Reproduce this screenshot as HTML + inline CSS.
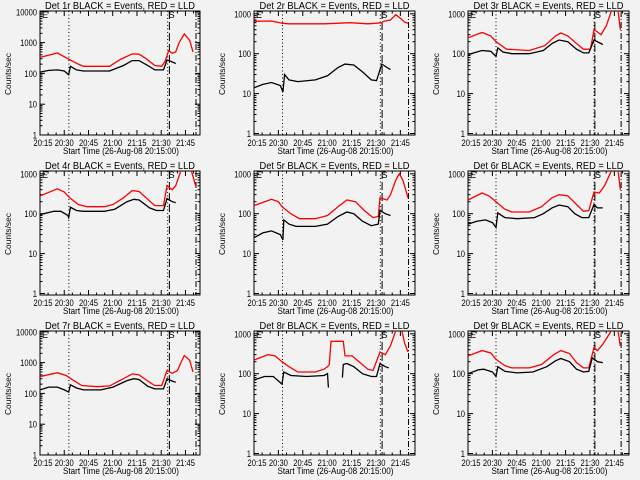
<!DOCTYPE html>
<html><head><meta charset="utf-8"><style>
html,body{margin:0;padding:0;background:#f2f2f2;}
svg{display:block;font-family:"Liberation Sans",sans-serif;}
</style></head><body>
<svg id="chart" width="640" height="480" viewBox="0 0 640 480">
<rect width="640" height="480" fill="#f2f2f2"/>
</svg>
<script>
// Panel order: Det 1r..9r
const detNames = ["1r","2r","3r","4r","5r","6r","7r","8r","9r"];
const yMaxDecade = [4,3,3,3,3,3,4,3,3];
const xTickLabels = ["20:15","20:30","20:45","21:00","21:15","21:30","21:45"];
const xTickMinutes = [0,15,30,45,60,75,90];
// black = Events: [t, counts/sec]; t in plot units (x1.076 = minutes after 20:15); null breaks the line
const black1 = [[0,110],[5,125],[10,130],[14,120],[16.5,90],[17.5,170],[21,130],[25,120],[40,120],[48,180],[53,260],[57,260],[62,180],[66,130],[71,130],[73,270],[75,250],[78,210]];
const red1 = [[0,330],[10,460],[16,300],[22,200],[25,170],[40,170],[46,280],[53,430],[57,420],[61,300],[66,180],[70,170],[72,250],[74,550],[76,450],[78,500],[80,1000],[83,1900],[86,1200],[88,500]];
const black2 = [[0,14],[5,17],[10,19],[15,16],[16.5,11],[17.5,30],[20,22],[25,20],[35,22],[42,28],[48,45],[52,55],[57,52],[62,35],[67,22],[70,21],[73,55],[76,45],[78,40]];
const red2 = [[0,650],[10,660],[16,580],[20,560],[40,560],[55,600],[65,560],[70,580],[73,600],[74,650],[78,700],[81,950],[84,750],[86,620],[88,580]];
const black3 = [[0,95],[8,120],[13,115],[16,85],[17,140],[20,110],[25,100],[35,100],[43,120],[48,180],[52,220],[57,200],[62,130],[66,105],[69,105],[72,220],[77,170]];
const red3 = [[0,250],[8,340],[13,280],[16,200],[22,130],[35,120],[44,160],[50,280],[53,330],[57,280],[62,180],[66,130],[70,130],[72,400],[74,350],[76,300],[79,500],[82,1200],[84,2500],[85,1500],[86,1000],[87,400]];
const black4 = [[0,95],[8,115],[12,115],[16,90],[16.5,80],[17.5,145],[21,120],[25,115],[37,115],[43,130],[50,200],[54,230],[57,220],[63,140],[67,120],[71,120],[73,240],[76,200],[78,190]];
const red4 = [[0,280],[10,420],[14,350],[17,250],[22,170],[27,150],[37,150],[42,170],[48,250],[53,380],[57,360],[62,230],[66,160],[71,160],[73,500],[76,400],[78,500],[81,1200],[84,2500],[87,1200],[89.5,500]];
const black5 = [[0,25],[5,33],[10,37],[15,30],[16.5,22],[17,70],[20,55],[24,48],[35,48],[42,55],[48,85],[53,110],[57,100],[62,65],[67,50],[71,55],[72,120],[75,100],[78,90]];
const red5 = [[0,160],[10,230],[14,200],[16,150],[21,100],[26,75],[35,75],[42,90],[48,150],[53,220],[58,200],[63,120],[68,80],[71,85],[72,250],[76,220],[78,300],[81,700],[83,1000],[85,700],[88,250]];
const black6 = [[0,55],[5,65],[10,70],[14,60],[16,45],[17,105],[21,80],[28,75],[38,80],[43,100],[48,140],[52,165],[57,150],[61,100],[65,80],[69,80],[72,170],[74,140],[77,140]];
const red6 = [[0,220],[8,330],[12,280],[16,200],[21,130],[25,110],[35,110],[42,150],[48,250],[52,300],[57,280],[62,170],[66,115],[69,120],[72,350],[75,330],[78,500],[82,1200],[84,2500],[86,1000],[87,400]];
const black7 = [[0,130],[5,160],[10,160],[14,130],[16.5,110],[17.5,190],[21,150],[25,130],[35,130],[42,160],[50,260],[54,300],[57,280],[62,170],[66,140],[71,140],[73,300],[76,250],[78,230]];
const red7 = [[0,350],[10,470],[15,380],[19,270],[24,180],[33,165],[40,175],[47,280],[53,430],[57,400],[62,250],[66,180],[70,180],[73,550],[76,450],[79,550],[81,1000],[83,1700],[86,1200],[88,500]];
const black8 = [[0,70],[6,85],[11,85],[16,55],[17,110],[21,90],[30,85],[40,90],[42,100],[42.5,45],null,[50.5,80],[51,170],[53,180],[57,150],[62,100],[67,85],[70,85],[72,180],[75,150],[77,140]];
const red8 = [[0,220],[8,300],[12,280],[16,200],[20,150],[25,110],[35,110],[40,130],[42,150],[43,170],[44,650],[51,650],[52,280],[56,280],[60,200],[65,130],[68,120],[72,350],[75,300],[78,500],[81,1200],[84,1500],[86,600],[88,350]];
const black9 = [[0,100],[6,125],[9,130],[14,110],[16,85],[17,150],[21,115],[28,105],[37,110],[45,150],[50,210],[53,240],[58,200],[62,130],[66,110],[69,115],[71,250],[74,200],[77,190]];
const red9 = [[0,280],[8,380],[13,330],[16,230],[21,160],[25,140],[35,140],[42,170],[49,300],[53,380],[58,320],[62,190],[66,140],[69,140],[72,450],[74,380],[77,550],[82,1200],[84,2500],[86,1000],[87,500]];
const blackSeries = [black1,black2,black3,black4,black5,black6,black7,black8,black9];
const redSeries = [red1,red2,red3,red4,red5,red6,red7,red8,red9];
// vertical marker lines (plot units): dotted, dotted, long-dash, dash-dot
const markers0 = [16.6,73.4,74.4,89.7];
const markers1 = [16.3,72.2,73.2,88.3];
const markers2 = [16.0,72.0,72.5,87.5];
const markerSets = [markers0,markers1,markers2];

const NS="http://www.w3.org/2000/svg";
const svg=document.getElementById('chart');
function mk(tag,attrs,parent){const e=document.createElementNS(NS,tag);for(const k in attrs)e.setAttribute(k,attrs[k]);(parent||svg).appendChild(e);return e;}
const colLeft=[40,254,468], colRight=[200,415,629];
const X_MAX=99;
const T_SCALE=99/92;
for(let p=0;p<9;p++){
  const col=p%3,row=Math.floor(p/3),oy=row*160;
  const L=colLeft[col],R=colRight[col],T=oy+11,B=oy+135;
  const dm=yMaxDecade[p];
  const pxPerDec = dm===4?30.8:39.9;
  const y0 = dm===4?B:B-1.5;
  const xm=m=>L+(R-L)*m/X_MAX;
  const xs=u=>xm(u*T_SCALE);
  const ys=v=>y0-Math.log10(v)*pxPerDec;
  const g=mk('g',{});
  
  
  const cid='clip'+p;
  const cp=mk('clipPath',{id:cid},g);mk('rect',{x:L,y:T,width:R-L,height:B-T},cp);
  const t=mk('text',{x:(L+R)/2,y:oy+9,'text-anchor':'middle','font-size':'10.5',fill:'#000',textLength:150,lengthAdjust:'spacingAndGlyphs'},g);
  t.textContent='Det '+detNames[p]+' BLACK = Events, RED = LLD';
  
  
  const fr=mk('rect',{x:L,y:T,width:R-L,height:B-T,fill:'none',stroke:'#000','stroke-width':1},g);
  
  
  for(let d=0;d<=dm;d++){
    const yy=ys(Math.pow(10,d));
    mk('line',{x1:L,x2:L+5,y1:yy,y2:yy,stroke:'#000'},g);
    mk('line',{x1:R,x2:R-5,y1:yy,y2:yy,stroke:'#000'},g);
    const str=String(Math.pow(10,d));
    const lb=mk('text',{x:L-3,y:yy+3.5,'text-anchor':'end','font-size':'9',fill:'#000',textLength:str.length*4.2,lengthAdjust:'spacingAndGlyphs'},g);
    lb.textContent=str;
    
    
    if(d<dm){for(let k=2;k<10;k++){const ym=ys(k*Math.pow(10,d));
      mk('line',{x1:L,x2:L+2.5,y1:ym,y2:ym,stroke:'#000'},g);
      mk('line',{x1:R,x2:R-2.5,y1:ym,y2:ym,stroke:'#000'},g);}}
  }
  for(let i=0;i<xTickMinutes.length;i++){
    const xx=xm(xTickMinutes[i]);
    mk('line',{x1:xx,x2:xx,y1:B,y2:B-5,stroke:'#000'},g);
    mk('line',{x1:xx,x2:xx,y1:T,y2:T+5,stroke:'#000'},g);
    const lb=mk('text',{x:xx+(i===0?3:0),y:B+11,'text-anchor':'middle','font-size':'9',fill:'#000',textLength:19,lengthAdjust:'spacingAndGlyphs'},g);
    lb.textContent=xTickLabels[i];
    
    
  }
  for(let m=5;m<X_MAX;m+=5){if(m%15===0)continue;const xx=xm(m);
    mk('line',{x1:xx,x2:xx,y1:B,y2:B-2.5,stroke:'#000'},g);
    mk('line',{x1:xx,x2:xx,y1:T,y2:T+2.5,stroke:'#000'},g);}
  const xt=mk('text',{x:(L+R)/2+1,y:oy+154,'text-anchor':'middle','font-size':'9.5',fill:'#000',textLength:116,lengthAdjust:'spacingAndGlyphs'},g);
  xt.textContent='Start Time (26-Aug-08 20:15:00)';
  
  
  const yt=mk('text',{x:0,y:0,'text-anchor':'middle','font-size':'8.5',fill:'#000',textLength:42,lengthAdjust:'spacingAndGlyphs',transform:'translate('+(L-29)+','+(oy+74)+') rotate(-90)'},g);
  yt.textContent='Counts/sec';
  
  
  const ms=markerSets[col];
  const dashes=['1,2.5','1,2.5','8,3','6,2,1,2'];
  for(let i=0;i<4;i++){const xx=xs(ms[i]);
    const ln=mk('line',{x1:xx,x2:xx,y1:T,y2:B,stroke:'#000','stroke-dasharray':dashes[i]},g);
    
    }
  const e=mk('text',{x:L+2,y:T+7,'font-size':'9',fill:'#000'},g);e.textContent='E';
  
  
  const s=mk('text',{x:xs(ms[1])+1,y:T+7,'font-size':'9',fill:'#000'},g);s.textContent='S';
  
  
  function draw(data,color,name){
    let segs=[[]];
    data.forEach(pt=>{if(pt===null){segs.push([]);return;}segs[segs.length-1].push(xs(pt[0]).toFixed(1)+','+ys(pt[1]).toFixed(1));});
    segs.forEach(sg=>{if(sg.length<2)return;
      const pl=mk('polyline',{points:sg.join(' '),fill:'none',stroke:color,'stroke-width':1.3,'clip-path':'url(#'+cid+')'},g);
      
      });
  }
  draw(redSeries[p],'#ff0000','lld-series-red');
  draw(blackSeries[p],'#000000','events-series-black');
}
</script>
</body></html>
